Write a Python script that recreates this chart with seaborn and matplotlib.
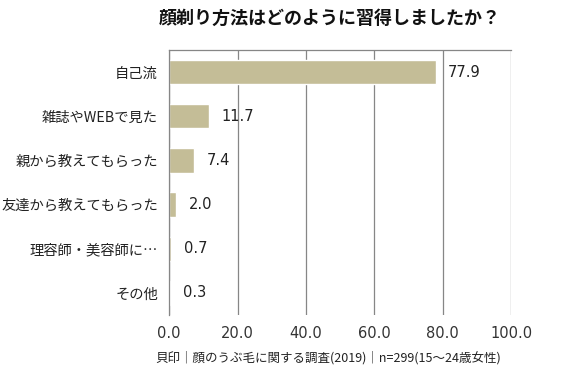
import matplotlib
matplotlib.use('Agg')
import matplotlib.pyplot as plt
import seaborn as sns
import pandas as pd
import numpy as np

# データ
categories = ['自己流', '雑誌やWEBで見た', '親から教えてもらった', '友達から教えてもらった', '理容師・美容師に…', 'その他']
values = [77.9, 11.7, 7.4, 2.0, 0.7, 0.3]
x_ticks = [0, 20, 40, 60, 80, 100]
title = '顔剃り方法はどのように習得しましたか？'
source = '貝印｜顔のうぶ毛に関する調査(2019)｜n=299(15～24歳女性)'

df = pd.DataFrame({'cat': categories, 'val': values})

sns.set_theme(style='white')
plt.rcParams['font.family'] = ['Noto Sans CJK JP', 'DejaVu Sans']
num_font = ['DejaVu Sans']

fig = plt.figure(figsize=(5.79, 3.76), dpi=100)
ax = fig.add_axes([0.292, 0.162, 0.591, 0.705])

sns.barplot(data=df, x='val', y='cat', color='#C4BD97', saturation=1, width=0.55, ax=ax)

ax.set_xlim(0, 100)
ax.set_ylim(len(categories) - 0.5, -0.5)
ax.set_xticks(x_ticks)
ax.set_xticklabels([f'{t:.1f}' for t in x_ticks], fontsize=10.5, color='#333333', family=num_font)
ax.tick_params(axis='x', length=0, pad=8)
ax.grid(axis='x', color='#868686', linewidth=0.9)
ax.set_axisbelow(True)

# 左の軸: カテゴリの境界に目盛り
ax.set_yticks(np.arange(len(categories)))
ax.set_yticklabels(categories, fontsize=10.3, color='#222222')
ax.tick_params(axis='y', length=0, pad=8)
ax.set_yticks(np.arange(len(categories) + 1) - 0.5, minor=True)
ax.tick_params(axis='y', which='minor', length=5, color='#868686', width=0.9, direction='out')

for s in ['right', 'bottom']:
    ax.spines[s].set_visible(False)
for s in ['left', 'top']:
    ax.spines[s].set_color('#868686')
    ax.spines[s].set_linewidth(0.9)

ax.set_xlabel('')
ax.set_ylabel('')

for i, v in enumerate(values):
    ax.annotate(f'{v:.1f}', (v, i), xytext=(9, 0), textcoords='offset points',
                va='center', ha='left', fontsize=10.5, color='#222222', family=num_font)

fig.text(0.57, 0.95, title, ha='center', va='center', fontsize=13, fontweight='bold', color='#111111')
fig.text(0.268, 0.048, source, ha='left', va='center', fontsize=9, color='#222222')

fig.savefig('out.png', dpi=100)
